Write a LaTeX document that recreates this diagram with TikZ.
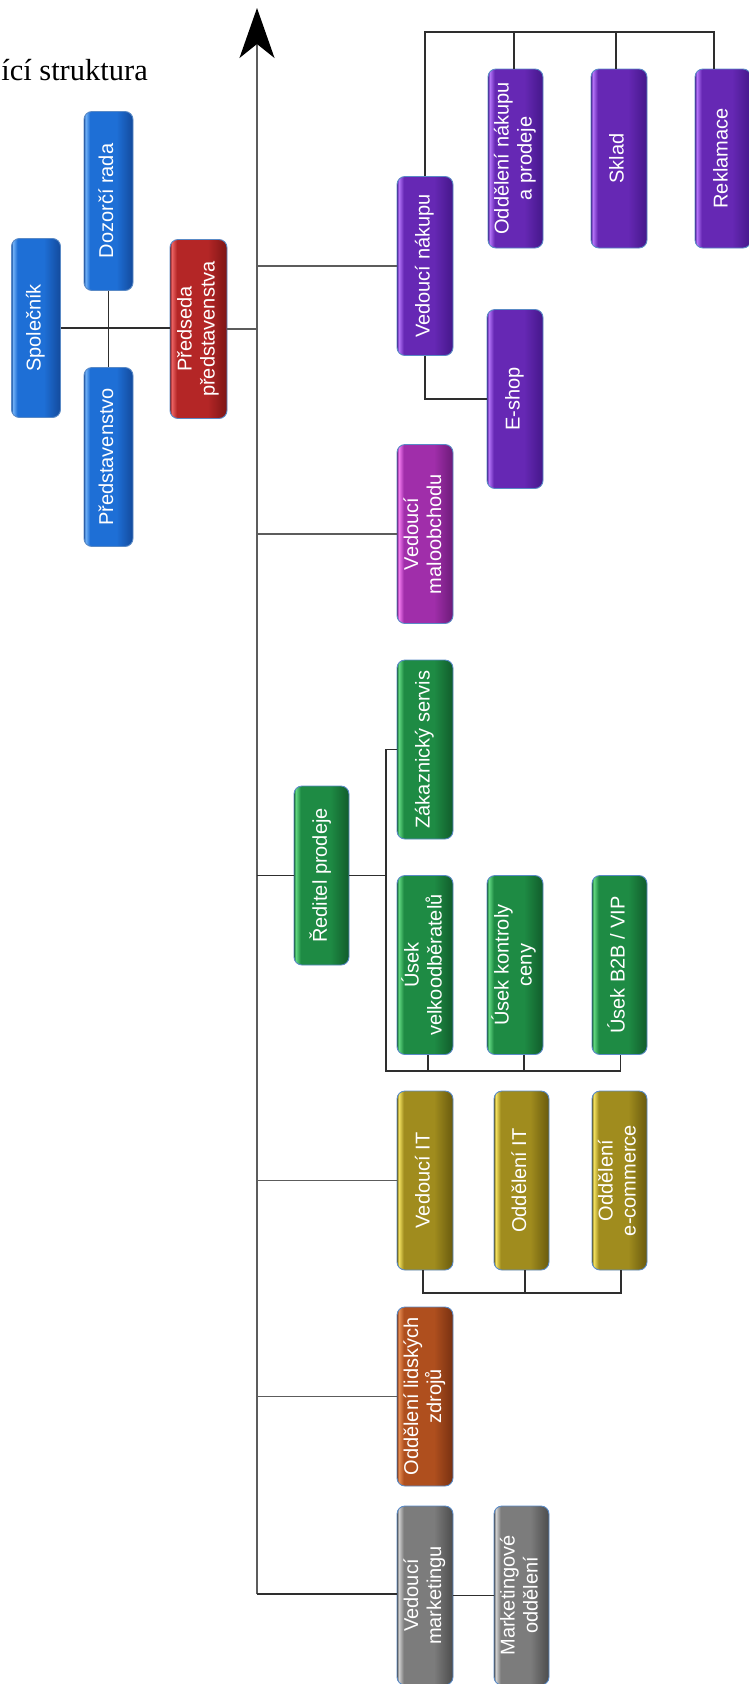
\documentclass[tikz,border=0pt]{standalone}
\usepackage{fontspec}
\usepackage{graphicx}
\setmainfont{Liberation Sans}
\newfontfamily\titlefont{Liberation Serif}
\usetikzlibrary{arrows.meta}

% colour families: light edge, body, dark edge
\definecolor{bluL}{HTML}{72B2F7}\definecolor{bluB}{HTML}{1E6FD6}\definecolor{bluD}{HTML}{134A9C}
\definecolor{redL}{HTML}{EC6464}\definecolor{redB}{HTML}{B42626}\definecolor{redD}{HTML}{7C1515}
\definecolor{purL}{HTML}{B676FA}\definecolor{purB}{HTML}{6628B4}\definecolor{purD}{HTML}{44178A}
\definecolor{magL}{HTML}{F57CF2}\definecolor{magB}{HTML}{A02EAA}\definecolor{magD}{HTML}{6C1B78}
\definecolor{grnL}{HTML}{62DA82}\definecolor{grnB}{HTML}{1E8B44}\definecolor{grnD}{HTML}{115C2B}
\definecolor{oliL}{HTML}{F5E462}\definecolor{oliB}{HTML}{A08C1E}\definecolor{oliD}{HTML}{695A0E}
\definecolor{orgL}{HTML}{E68C52}\definecolor{orgB}{HTML}{AF4F1E}\definecolor{orgD}{HTML}{773011}
\definecolor{gryL}{HTML}{D2D2D2}\definecolor{gryB}{HTML}{7C7C7C}\definecolor{gryD}{HTML}{4C4C4C}
\definecolor{boxedge}{HTML}{5A8AC6}
\definecolor{linkline}{HTML}{2E2E2E}
\definecolor{axisline}{HTML}{5C5C5C}

% glossy horizontal shading: bright strip at the left, darker right edge
\newcommand\glossdef[4]{%
  \pgfdeclarehorizontalshading{#1}{100bp}{color(0bp)=(#4); color(25bp)=(#4);
    color(26.5bp)=(#2); color(31bp)=(#3); color(58bp)=(#3); color(75bp)=(#4); color(100bp)=(#4)}}
\glossdef{glossblu}{bluL}{bluB}{bluD}
\glossdef{glossred}{redL}{redB}{redD}
\glossdef{glosspur}{purL}{purB}{purD}
\glossdef{glossmag}{magL}{magB}{magD}
\glossdef{glossgrn}{grnL}{grnB}{grnD}
\glossdef{glossoli}{oliL}{oliB}{oliD}
\glossdef{glossorg}{orgL}{orgB}{orgD}
\glossdef{glossgry}{gryL}{gryB}{gryD}

% upright label turned to read bottom-to-top
\newcommand\vt[1]{\rotatebox{90}{\begin{tabular}{@{}c@{}}#1\end{tabular}}}

\tikzset{
  orgbox/.style={rounded corners=8pt, draw=boxedge, line width=0.9pt, shade,
    minimum width=56pt, minimum height=179pt, inner sep=0pt, text=white,
    font=\fontsize{20}{23}\selectfont},
  fblu/.style={orgbox, shading=glossblu, minimum width=49pt},
  fred/.style={orgbox, shading=glossred, minimum width=57pt},
  fpur/.style={orgbox, shading=glosspur},
  fmag/.style={orgbox, shading=glossmag},
  fgrn/.style={orgbox, shading=glossgrn},
  foli/.style={orgbox, shading=glossoli},
  forg/.style={orgbox, shading=glossorg},
  fgry/.style={orgbox, shading=glossgry},
  link/.style={draw=linkline, line width=1.3pt},
  trunk/.style={draw=axisline, line width=1.6pt},
}

\begin{document}
\begin{tikzpicture}[x=1pt, y=-1pt]
\useasboundingbox (0,0) rectangle (749,1684);
\clip (0,0) rectangle (749,1684);

% title
\node[font=\titlefont\fontsize{30.5}{36}\selectfont, anchor=base east, inner sep=0pt]
  (title) at (148,80) {ící struktura};

% owners and board
\node[fblu] (spol)  at (36,328)    {\vt{Společník}};
\node[fblu] (dozor) at (108.5,201) {\vt{Dozorčí rada}};
\node[fblu] (pred)  at (108.5,457) {\vt{Představenstvo}};
\node[fred] (preds) at (198.5,329) {\vt{Předseda\\představenstva}};

% purchasing
\node[fpur] (vn)    at (425,266)   {\vt{Vedoucí nákupu}};
\node[fpur, minimum width=55pt] (onp) at (515.5,158.5) {\vt{Oddělení nákupu\\a prodeje}};
\node[fpur] (sklad) at (619,158.5) {\vt{Sklad}};
\node[fpur] (rekl)  at (723,158.5) {\vt{Reklamace}};
\node[fpur] (eshop) at (515,399)   {\vt{E-shop}};

% retail
\node[fmag] (malo)  at (425,534)   {\vt{Vedoucí\\maloobchodu}};

% sales
\node[fgrn] (zak)   at (425,749.5) {\vt{Zákaznický servis}};
\node[fgrn, minimum width=55pt] (red) at (321.5,875.5) {\vt{Ředitel prodeje}};
\node[fgrn] (velko) at (425,965)   {\vt{Úsek\\velkoodběratelů}};
\node[fgrn] (kontr) at (515,965)   {\vt{Úsek kontroly\\ceny}};
\node[fgrn, minimum width=55pt] (b2b) at (619.5,965) {\vt{Úsek B2B / VIP}};

% IT
\node[foli] (vit)   at (425,1180.5)   {\vt{Vedoucí IT}};
\node[foli, minimum width=55pt] (oit)  at (521.5,1180.5) {\vt{Oddělení IT}};
\node[foli, minimum width=55pt] (ecom) at (619.5,1180.5) {\vt{Oddělení\\e-commerce}};

% HR
\node[forg] (hr)    at (425,1396.5) {\vt{Oddělení lidských\\zdrojů}};

% marketing
\node[fgry] (vmkt)  at (425,1595.5) {\vt{Vedoucí\\marketingu}};
\node[fgry, minimum width=55pt] (mkt) at (521.5,1595.5) {\vt{Marketingové\\oddělení}};

% helper coordinates for the bars
\coordinate (axtop) at (257,8);
\coordinate (axbot) at (257,1594);
\coordinate (pbar)  at (0,32);
\coordinate (gx)    at (386,1071);
\coordinate (itbar) at (0,1293);

% board links
\draw[link] (spol.east) -- (spol.east -| preds.west);
\draw[link] (dozor.south) -- (pred.north);
\draw[trunk] (preds.east) -- (preds.east -| axtop);

% main trunk with arrow
\draw[trunk, -{Stealth[length=50pt, width=35pt, inset=14pt, color=black]}] (axbot) -- (axtop);

% branches off the trunk
\draw[trunk] (vn.west -| axtop) -- (vn.west);
\draw[trunk] (malo.west -| axtop) -- (malo.west);
\draw[link]  (red.west -| axtop) -- (red.west);
\draw[trunk] (vit.west -| axtop) -- (vit.west);
\draw[trunk] (hr.west -| axtop) -- (hr.west);
\draw[link]  (axbot) -- (axbot -| vmkt.west);
\draw[link]  (vmkt.east) -- (mkt.west);

% purchasing bar
\draw[link] (vn.north) -- (vn.north |- pbar) -- ([xshift=-9pt]rekl.north |- pbar) -- ([xshift=-9pt]rekl.north);
\draw[link] ([xshift=-1.5pt]onp.north) -- ([xshift=-1.5pt]onp.north |- pbar);
\draw[link] ([xshift=-3pt]sklad.north) -- ([xshift=-3pt]sklad.north |- pbar);
\draw[link] (vn.south) |- (eshop.west);

% sales bar
\draw[link] (red.east) -- (red.east -| gx);
\draw[link] (zak.west) -| (gx) -- ([xshift=1pt]b2b.south |- gx) -- ([xshift=1pt]b2b.south);
\draw[link] ([xshift=3pt]velko.south) -- ([xshift=3pt]velko.south |- gx);
\draw[link] ([xshift=9pt]kontr.south) -- ([xshift=9pt]kontr.south |- gx);

% IT bar
\draw[link] ([xshift=-2pt]vit.south) -- ([xshift=-2pt]vit.south |- itbar) -- ([xshift=1.5pt]ecom.south |- itbar) -- ([xshift=1.5pt]ecom.south);
\draw[link] ([xshift=3.5pt]oit.south) -- ([xshift=3.5pt]oit.south |- itbar);
\end{tikzpicture}
\end{document}
